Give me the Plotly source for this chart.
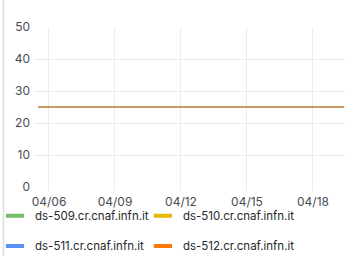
import plotly.graph_objects as go

# ---- data ----
dates = [
    "2024-04-05 12:00", "2024-04-06 12:00", "2024-04-07 12:00", "2024-04-08 12:00",
    "2024-04-09 12:00", "2024-04-10 12:00", "2024-04-11 12:00", "2024-04-12 12:00",
    "2024-04-13 12:00", "2024-04-14 12:00", "2024-04-15 12:00", "2024-04-16 12:00",
    "2024-04-17 12:00", "2024-04-18 12:00", "2024-04-19 10:00",
]
hosts = ["ds-509.cr.cnaf.infn.it", "ds-510.cr.cnaf.infn.it",
         "ds-511.cr.cnaf.infn.it", "ds-512.cr.cnaf.infn.it"]
values_509 = [25] * len(dates)
values_510 = [25] * len(dates)
values_511 = [25] * len(dates)
values_512 = [25] * len(dates)
series = [values_509, values_510, values_511, values_512]
colors = ["#73BF69", "#E6B800", "#5794F2", "#FF780A"]
y_ticks = [0, 10, 20, 30, 40, 50]

legend_ids = ["legend", "legend2", "legend3", "legend4"]

fig = go.Figure()
for name, vals, col in zip(hosts, series, colors):
    fig.add_trace(go.Scatter(x=dates, y=vals, mode="lines", name=name,
                             line=dict(color=col, width=2), opacity=0.42,
                             showlegend=False, hoverinfo="skip"))
# legend entries
for name, col, lid in zip(hosts, colors, legend_ids):
    fig.add_trace(go.Scatter(x=[None], y=[None], mode="markers", name=name,
                             marker=dict(symbol="line-ew-open", size=13, color=col,
                                         line=dict(color=col, width=4)),
                             legend=lid))

font_fam = "Inter, Arial, sans-serif"
leg_common = dict(orientation="h", xanchor="left", yanchor="top",
                  bgcolor="rgba(0,0,0,0)",
                  font=dict(size=11.5, color="#24292e", family=font_fam),
                  itemwidth=30)
col_x = [-0.129, 0.348]
row_y = [-0.089, -0.2775]
fig.update_layout(
    width=353, height=256,
    margin=dict(l=35, r=8, t=27, b=69, autoexpand=False),
    paper_bgcolor="white", plot_bgcolor="white",
    font=dict(family=font_fam, size=12, color="#464c54"),
    xaxis=dict(type="date", range=["2024-04-05 08:44", "2024-04-19 10:55"],
               tick0="2024-04-06", dtick=3 * 86400000, tickformat="%m/%d",
               showgrid=True, gridcolor="#ececec", gridwidth=1,
               ticks="outside", ticklen=4, tickcolor="#ececec",
               showline=False, zeroline=False,
               tickfont=dict(size=12, color="#464c54")),
    yaxis=dict(range=[0, 50], tickvals=y_ticks, showgrid=True, gridcolor="#ececec",
               gridwidth=1, zeroline=False, showline=False, ticks="",
               ticklabelstandoff=4,
               tickfont=dict(size=12, color="#464c54")),
    legend=dict(x=col_x[0], y=row_y[0], **leg_common),
    legend2=dict(x=col_x[1], y=row_y[0], **leg_common),
    legend3=dict(x=col_x[0], y=row_y[1], **leg_common),
    legend4=dict(x=col_x[1], y=row_y[1], **leg_common),
    shapes=[dict(type="line", xref="paper", yref="paper",
                 x0=-31.5 / 310, x1=-31.5 / 310, y0=-69 / 160, y1=27 / 160 + 1,
                 line=dict(color="#dcdcdc", width=1.5))],
)

fig.write_html("out.html", config={"displayModeBar": False},
               post_script="document.body.style.margin='0';")
